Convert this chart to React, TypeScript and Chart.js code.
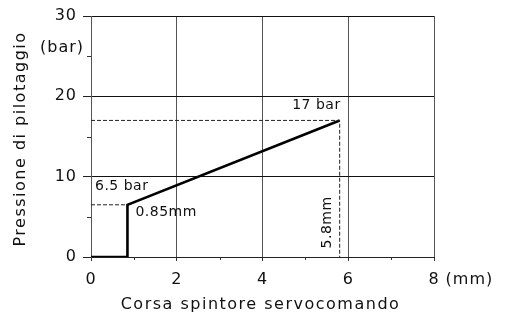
import React, { useEffect, useRef } from "react";
import { Chart, registerables } from "chart.js";

Chart.register(...registerables);

// Characteristic: pilot pressure vs. servo pushrod stroke
const strokeMm = [0, 0.85, 0.85, 5.8];
const pressureBar = [0, 0, 6.5, 17];

// Reference (dashed) guides
const startMm = 0.85;
const startBar = 6.5;
const endMm = 5.8;
const endBar = 17;

// Axes
const xMin = 0;
const xMax = 8;
const xStep = 2;
const yMin = 0;
const yMax = 30;
const yStep = 10;
const xMinorTicks = [1, 3, 5, 7];
const yMinorTicks = [5, 15, 25];

const xTitle = "Corsa spintore servocomando";
const yTitle = "Pressione di pilotaggio";
const xUnit = "(mm)";
const yUnit = "(bar)";
const startBarLabel = "6.5 bar";
const startMmLabel = "0.85mm";
const endBarLabel = "17 bar";
const endMmLabel = "5.8mm";

const FONT = "'DejaVu Sans', sans-serif";

const overlayPlugin = {
  id: "overlay",
  beforeDraw(chart: any) {
    chart.ctx.letterSpacing = "1px";
  },
  afterDraw(chart: any) {
    const { ctx, chartArea } = chart;
    const xs = chart.scales.x;
    const ys = chart.scales.y;
    ctx.save();

    // minor ticks
    ctx.strokeStyle = "#333";
    ctx.lineWidth = 1;
    ctx.beginPath();
    yMinorTicks.forEach((v) => {
      const py = Math.round(ys.getPixelForValue(v)) + 0.5;
      ctx.moveTo(chartArea.left - 4, py);
      ctx.lineTo(chartArea.left, py);
    });
    xMinorTicks.forEach((v) => {
      const px = Math.round(xs.getPixelForValue(v)) + 0.5;
      ctx.moveTo(px, chartArea.bottom);
      ctx.lineTo(px, chartArea.bottom + 3);
    });
    ctx.stroke();

    ctx.fillStyle = "#111";
    ctx.letterSpacing = "1px";
    ctx.font = `16px ${FONT}`;
    ctx.textBaseline = "middle";

    // unit after the last x tick label
    const x8 = xs.getPixelForValue(xMax);
    ctx.textAlign = "left";
    const w8 = ctx.measureText(String(xMax)).width;
    ctx.fillText(xUnit, x8 + w8 / 2 + 6, 280);

    // y unit
    ctx.textAlign = "right";
    ctx.fillText(yUnit, chartArea.left - 7, ys.getPixelForValue(26));

    // axis titles
    ctx.letterSpacing = "1.5px";
    ctx.textAlign = "center";
    ctx.fillText(xTitle, (chartArea.left + chartArea.right) / 2 - 2, 305);
    ctx.save();
    ctx.translate(21, 139);
    ctx.rotate(-Math.PI / 2);
    ctx.fillText(yTitle, 0, 0);
    ctx.restore();

    // annotations
    ctx.letterSpacing = "0.5px";
    ctx.font = `14px ${FONT}`;
    const p0x = xs.getPixelForValue(startMm);
    const p0y = ys.getPixelForValue(startBar);
    const p1x = xs.getPixelForValue(endMm);
    const p1y = ys.getPixelForValue(endBar);

    ctx.textAlign = "left";
    ctx.fillText(startBarLabel, xs.getPixelForValue(0) + 4, p0y - 18);
    ctx.fillText(startMmLabel, p0x + 8, p0y + 8);

    ctx.textAlign = "right";
    ctx.fillText(endBarLabel, p1x + 1, p1y - 15);

    ctx.save();
    ctx.translate(p1x - 12, ys.getPixelForValue(4.3));
    ctx.rotate(-Math.PI / 2);
    ctx.textAlign = "center";
    ctx.fillText(endMmLabel, 0, 0);
    ctx.restore();

    ctx.restore();
  },
};

export default function App() {
  const canvasRef = useRef<HTMLCanvasElement | null>(null);

  useEffect(() => {
    const canvas = canvasRef.current;
    if (!canvas) return;

    const curve = strokeMm.map((x, i) => ({ x, y: pressureBar[i] }));
    const startGuide = [
      { x: xMin, y: startBar },
      { x: startMm, y: startBar },
    ];
    const endGuide = [
      { x: xMin, y: endBar },
      { x: endMm, y: endBar },
      { x: endMm, y: yMin },
    ];

    const dashed = {
      showLine: true,
      borderColor: "#222",
      borderWidth: 1,
      borderDash: [4, 2],
      pointRadius: 0,
      fill: false,
    };

    const chart = new Chart(canvas, {
      type: "scatter",
      data: {
        datasets: [
          { ...dashed, data: startGuide },
          { ...dashed, data: endGuide },
          {
            data: curve,
            showLine: true,
            borderColor: "#000",
            borderWidth: 2.6,
            borderJoinStyle: "miter",
            pointRadius: 0,
            fill: false,
          },
        ],
      },
      options: {
        responsive: false,
        animation: false,
        events: [],
        layout: { padding: { top: 16, right: 75, left: 0, bottom: 0 } },
        plugins: {
          legend: { display: false },
          tooltip: { enabled: false },
          title: { display: false },
        },
        scales: {
          x: {
            type: "linear",
            min: xMin,
            max: xMax,
            afterFit(scale: any) {
              scale.height = 63;
            },
            ticks: {
              stepSize: xStep,
              padding: 9,
              color: "#111",
              font: { family: FONT, size: 16 },
              maxRotation: 0,
              callback: (v: any) => String(v),
            },
            grid: {
              color: "#555",
              lineWidth: 1,
              tickLength: 4,
              tickColor: "#333",
            },
            border: { color: "#222", width: 1 },
          },
          y: {
            type: "linear",
            min: yMin,
            max: yMax,
            afterFit(scale: any) {
              scale.width = 91;
            },
            ticks: {
              stepSize: yStep,
              padding: 6,
              color: "#111",
              font: { family: FONT, size: 16 },
              callback: (v: any) => String(v),
            },
            grid: {
              color: "#111",
              lineWidth: 1,
              tickLength: 8,
              tickColor: "#222",
            },
            border: { color: "#555", width: 1 },
          },
        },
      },
      plugins: [overlayPlugin],
    } as any);

    return () => chart.destroy();
  }, []);

  return (
    <div style={{ position: "absolute", left: 0, top: 0, width: 509, height: 320, background: "#fff" }}>
      <canvas ref={canvasRef} width={509} height={320} style={{ display: "block" }} />
    </div>
  );
}
